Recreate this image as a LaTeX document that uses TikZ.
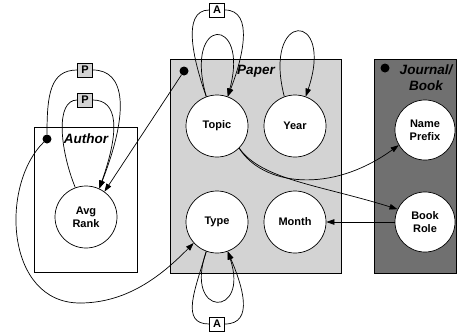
\documentclass[tikz,border=0pt]{standalone}
\usepackage{fontspec}
\setmainfont{Liberation Sans}
\usetikzlibrary{arrows.meta}
\definecolor{paperfill}{RGB}{211,211,211}
\definecolor{journalfill}{RGB}{112,112,112}
\begin{document}
\begin{tikzpicture}[x=1pt,y=-1pt,
  plate/.style={draw, line width=0.7pt},
  attr/.style={circle, draw, line width=0.7pt, fill=white, minimum size=62pt,
    inner sep=0pt, align=center, font=\bfseries\fontsize{11}{13}\selectfont},
  hub/.style={circle, fill=black, minimum size=9pt, inner sep=0pt},
  platelabel/.style={font=\bfseries\itshape\fontsize{13.5}{16}\selectfont, align=center, inner sep=0pt},
  aggbox/.style={draw, line width=0.7pt, minimum width=15pt, minimum height=14pt,
    inner sep=0pt, font=\bfseries\fontsize{11}{11}\selectfont},
  link/.style={line width=0.7pt},
  dep/.style={link, -{Triangle[length=8pt,width=5.5pt]}}]
\useasboundingbox (0,0) rectangle (466,335);

% plates
\draw[plate, fill=white]       (34,127) rectangle (137,272);
\draw[plate, fill=paperfill]   (170,59) rectangle (341,273);
\draw[plate, fill=journalfill] (374,59) rectangle (456,273);

% plate labels and their reference points
\node[platelabel] (authorlbl) at (86,139) {Author};
\node[platelabel] (paperlbl) at (256,71) {Paper};
\node[platelabel] (journallbl) at (426,78) {Journal/\\Book};
\node[hub] (adot) at (47,139) {};
\node[hub] (pdot) at (184,71) {};
\node[hub] (jdot) at (385,68) {};

% attributes
\node[attr] (avg)   at (86,217)  {Avg\\Rank};
\node[attr] (topic) at (217,126) {Topic};
\node[attr] (year)  at (295,126) {Year};
\node[attr] (type)  at (217,222) {Type};
\node[attr] (month) at (295,222) {Month};
\node[attr, minimum size=60pt] (np) at (425,130) {Name\\Prefix};
\node[attr, minimum size=60pt] (br) at (425,222) {Book\\Role};

% aggregation boxes
\node[aggbox, fill=paperfill] (pup)  at (85,70)  {P};
\node[aggbox, fill=paperfill] (plow) at (85,100) {P};
\node[aggbox, fill=white]     (atop) at (217,10) {A};
\node[aggbox, fill=white]     (abot) at (217,324) {A};

% Author loops through P
\draw[link] (adot) .. controls (47,95) and (50,70) .. (pup.west);
\draw[dep]  (pup.east) .. controls (125,70) and (130,110) .. (avg.65);
\draw[link] (avg.110) .. controls (60,150) and (55,100) .. (plow.west);
\draw[dep]  (plow.east) .. controls (118,100) and (120,130) .. (avg.65);

% Paper to Author
\draw[dep] (pdot) -- (avg.54);

% Author to Type
\draw[link] (adot) .. controls (0,185) and (5,303) .. (80,303);
\draw[dep]  (80,303) .. controls (130,303) and (165,272) .. (type.222);

% Topic loops
\draw[link] (topic.110) .. controls (195,65) and (180,10) .. (atop.west);
\draw[dep]  (atop.east) .. controls (255,10) and (242,60) .. (topic.70);
\draw[dep]  (topic.110) .. controls (183,15) and (250,15) .. (topic.70);

% Year loop
\draw[dep] (year.110) .. controls (262,10) and (335,10) .. (year.70);

% Type loops
\draw[link] (type.250) .. controls (195,290) and (180,324) .. (abot.west);
\draw[dep]  (abot.east) .. controls (255,324) and (242,285) .. (type.290);
\draw[dep]  (type.250) .. controls (183,318) and (250,318) .. (type.290);

% Topic to Journal/Book
\draw[dep] (topic.315) .. controls (262,185) and (330,195) .. (np.210);
\draw[dep] (topic.315) .. controls (262,180) and (320,185) .. (br.155);

% Book Role to Month
\draw[dep] (br.west) -- (month.east);
\end{tikzpicture}
\end{document}
